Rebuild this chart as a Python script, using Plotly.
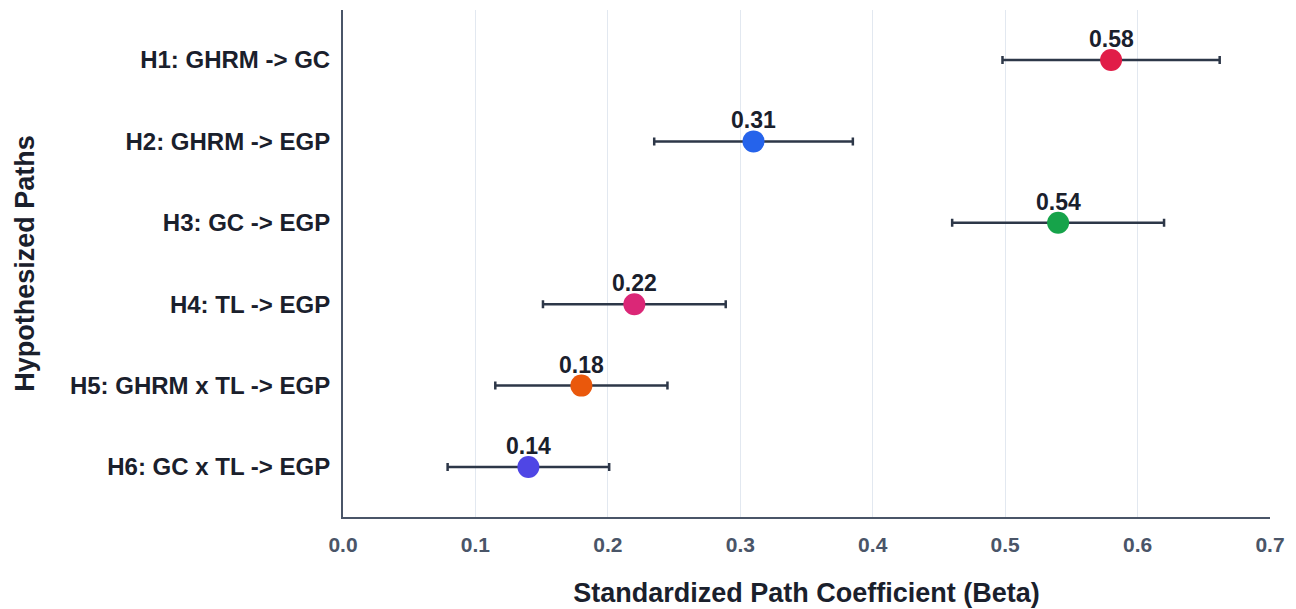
import plotly.graph_objects as go

paths = ["H1: GHRM -> GC", "H2: GHRM -> EGP", "H3: GC -> EGP", "H4: TL -> EGP",
         "H5: GHRM x TL -> EGP", "H6: GC x TL -> EGP"]
beta = [0.58, 0.31, 0.54, 0.22, 0.18, 0.14]
ci_err = [0.082, 0.075, 0.08, 0.069, 0.065, 0.061]
colors = ["#e11d48", "#2563eb", "#16a34a", "#db2777", "#ea580c", "#4f46e5"]

FONT = "Liberation Sans, Arial"

fig = go.Figure()
fig.add_trace(go.Scatter(
    x=beta, y=paths, mode="markers",
    marker=dict(size=22, color=colors),
    error_x=dict(type="data", array=ci_err, color="#2d3748", thickness=2.5, width=4),
    showlegend=False, cliponaxis=False,
))

for b, p in zip(beta, paths):
    fig.add_annotation(
        x=b, y=p, text=f"{b:.2f}", showarrow=False, yshift=21,
        font=dict(family=FONT, size=23, color="#1a202c", weight="bold"),
    )

fig.update_layout(
    width=1296, height=609,
    margin=dict(l=335, r=34, t=2, b=100),
    plot_bgcolor="white", paper_bgcolor="white",
    font=dict(family=FONT, color="#1a202c"),
    xaxis=dict(
        range=[0, 0.7], dtick=0.1, tickformat=".1f",
        showgrid=True, gridcolor="#e2e8f0", gridwidth=1,
        showline=True, linecolor="#4a5568", linewidth=2,
        zeroline=False, ticks="", ticklabelstandoff=8,
        tickfont=dict(family=FONT, size=21, color="#4a5568", weight="bold"),
        title=dict(text="Standardized Path Coefficient (Beta)",
                   font=dict(family=FONT, size=27, color="#1a202c", weight="bold"), standoff=28),
    ),
    yaxis=dict(
        categoryorder="array", categoryarray=paths,
        range=[5.614, -0.614],
        showgrid=False, showline=True, linecolor="#4a5568", linewidth=2,
        zeroline=False, ticks="", ticklabelstandoff=6,
        tickfont=dict(family=FONT, size=24, color="#1a202c", weight="bold"),
        title=dict(text="Hypothesized Paths",
                   font=dict(family=FONT, size=27, color="#1a202c", weight="bold"), standoff=27),
    ),
)

fig.write_html("out.html")
